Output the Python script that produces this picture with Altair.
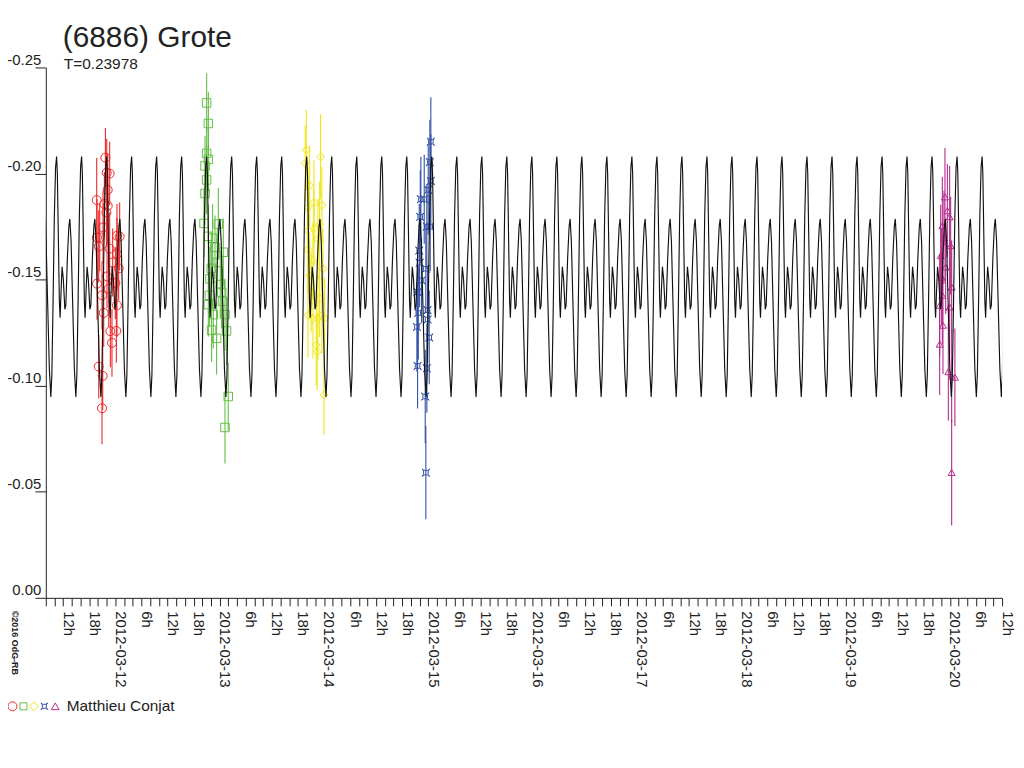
import altair as alt
import pandas as pd

FONT = "Liberation Sans"
INK = "#222222"

TITLE = "(6886) Grote"
SUBTITLE = "T=0.23978"
PERIOD_D = 0.23978
OBSERVER = "Matthieu Conjat"
CREDIT = "©2016 OdG-RB"

# time is kept as hours after 2012-03-11 00:00 UT
ORIGIN = "2012-03-11T00:00:00Z"
X_START_H = 8.0      # 2012-03-11 08h
X_END_H = 228.0      # 2012-03-20 12h
TICK_STEP_H = 2
Y_TICKS = [-0.25, -0.20, -0.15, -0.10, -0.05, 0.00]

# one cycle of the model curve (phase, relative magnitude)
PEAK_EPOCH_H = 10.48
CYCLE_PHASE = [0.00, 0.03, 0.07, 0.11, 0.14, 0.18, 0.22, 0.27, 0.33, 0.37, 0.43,
               0.49, 0.53, 0.58, 0.64, 0.71, 0.77, 0.81, 0.86, 0.91, 0.96, 1.00]
CYCLE_MAG = [-0.208, -0.200, -0.170, -0.140, -0.132, -0.145, -0.156, -0.150, -0.136,
             -0.138, -0.160, -0.175, -0.1786, -0.168, -0.140, -0.108, -0.0947, -0.105,
             -0.140, -0.180, -0.203, -0.208]

SESSIONS = ["2012-03-11", "2012-03-12", "2012-03-13", "2012-03-14", "2012-03-19"]
COLORS = ["#ee2828", "#64be46", "#f0e614", "#3250a5", "#b42d8c"]
STAR = "M-1,-1L-0.45,-0.6L0.45,-0.6L1,-1L0.6,-0.45L0.6,0.45L1,1L0.45,0.6L-0.45,0.6L-1,1L-0.6,0.45L-0.6,-0.45Z"
SHAPES = ["circle", "square", "diamond", STAR, "triangle-up"]
SIZES = [81, 49, 80, 45, 60]

red_t = [21.71, 22.01, 22.69, 22.24, 19.71, 21.48, 22.24, 21.94, 21.16, 19.78, 20.40,
         24.37, 24.99, 20.17, 24.37, 19.78, 22.08, 24.00, 20.93, 22.47, 24.37, 21.32,
         22.85, 24.23, 23.22, 20.17, 21.09, 20.93, 23.38, 24.76, 22.69]
red_m = [-0.2075, -0.2004, -0.2000, -0.1923, -0.1875, -0.1856, -0.1848, -0.1817, -0.1746,
         -0.1699, -0.1699, -0.1707, -0.1703, -0.1656, -0.1621, -0.1481, -0.1515, -0.1484,
         -0.1426, -0.1457, -0.1379, -0.1343, -0.1257, -0.1258, -0.1202, -0.1090, -0.1046,
         -0.0894, -0.1581, -0.1553, -0.1646]
red_e = [0.014, 0.016, 0.015, 0.017, 0.020, 0.015, 0.018, 0.016, 0.017, 0.018, 0.016,
         0.015, 0.016, 0.017, 0.017, 0.017, 0.015, 0.017, 0.016, 0.018, 0.015, 0.016,
         0.017, 0.015, 0.016, 0.015, 0.016, 0.017, 0.016, 0.015, 0.017]

green_t = [45.00, 45.39, 45.00, 45.39, 44.63, 45.00, 44.63, 44.40, 45.39, 46.37, 47.68,
           48.83, 46.92, 47.45, 46.08, 45.78, 48.14, 48.44, 45.62, 48.67, 45.39, 49.22,
           46.53, 46.14, 49.58, 47.29, 49.97, 49.22]
green_m = [-0.2333, -0.2236, -0.2095, -0.2067, -0.2036, -0.1970, -0.1906, -0.1765, -0.1704,
           -0.1695, -0.1762, -0.1629, -0.1652, -0.1581, -0.1553, -0.1504, -0.1477, -0.1441,
           -0.1426, -0.1398, -0.1382, -0.1335, -0.1335, -0.1262, -0.1258, -0.1223, -0.0949,
           -0.0803]
green_e = [0.014, 0.015, 0.016, 0.015, 0.014, 0.016, 0.015, 0.016, 0.015, 0.016, 0.017,
           0.016, 0.015, 0.016, 0.017, 0.015, 0.016, 0.017, 0.015, 0.016, 0.015, 0.017,
           0.016, 0.015, 0.016, 0.017, 0.016, 0.017]

yellow_t = [67.92, 71.22, 67.69, 68.70, 69.69, 71.52, 68.31, 70.99, 69.69, 68.31, 70.60,
            68.31, 69.46, 71.75, 68.70, 69.07, 70.99, 68.31, 69.46, 71.52, 72.14, 70.60,
            70.21, 70.44, 71.98]
yellow_m = [-0.2111, -0.2079, -0.2048, -0.1942, -0.1863, -0.1851, -0.1840, -0.1762, -0.1742,
            -0.1731, -0.1692, -0.1642, -0.1590, -0.1551, -0.1520, -0.1441, -0.1410, -0.1332,
            -0.1317, -0.1332, -0.1317, -0.1317, -0.1191, -0.1160, -0.0957]
yellow_e = [0.019, 0.020, 0.018, 0.019, 0.020, 0.018, 0.019, 0.020, 0.018, 0.019, 0.019,
            0.020, 0.018, 0.019, 0.020, 0.019, 0.018, 0.020, 0.019, 0.018, 0.019, 0.020,
            0.019, 0.018, 0.019]

blue_t = [96.58, 96.35, 96.58, 95.98, 94.29, 95.06, 94.15, 95.66, 96.44, 93.92, 95.43,
          93.53, 93.69, 95.82, 95.82, 93.37, 96.21, 93.53, 95.66, 95.29, 95.43, 94.00, 94.44]
blue_m = [-0.2150, -0.2054, -0.1965, -0.1923, -0.1879, -0.1879, -0.1796, -0.1750, -0.1750,
          -0.1637, -0.1551, -0.1441, -0.1343, -0.1356, -0.1312, -0.1277, -0.1227, -0.1093,
          -0.1082, -0.0949, -0.0590, -0.1580, -0.1496]
blue_e = [0.021, 0.020, 0.022, 0.021, 0.020, 0.021, 0.022, 0.020, 0.021, 0.022, 0.021,
          0.020, 0.022, 0.021, 0.020, 0.021, 0.022, 0.020, 0.021, 0.022, 0.022, 0.021, 0.020]

magenta_t = [214.86, 215.41, 215.94, 214.26, 214.63, 216.17, 213.87, 215.02, 214.10, 216.40,
             214.26, 213.64, 215.94, 214.40, 213.64, 215.64, 216.40, 217.15, 216.40]
magenta_m = [-0.1890, -0.1825, -0.1796, -0.1754, -0.1699, -0.1660, -0.1613, -0.1559, -0.1512,
             -0.1465, -0.1426, -0.1379, -0.1371, -0.1285, -0.1196, -0.1066, -0.1046, -0.1040,
             -0.0591]
magenta_e = [0.023, 0.022, 0.024, 0.023, 0.022, 0.023, 0.024, 0.022, 0.023, 0.022, 0.023,
             0.024, 0.022, 0.023, 0.024, 0.023, 0.022, 0.023, 0.025]

# ---------------------------------------------------------------- tables
origin_ms = pd.Timestamp(ORIGIN).value // 10**6
HOUR_MS = 3600 * 1000


def to_ms(h):
    return int(round(origin_ms + h * HOUR_MS))


period_h = PERIOD_D * 24.0
curve_rows = []
n0 = int((X_START_H - PEAK_EPOCH_H) // period_h) - 1
n1 = int((X_END_H - PEAK_EPOCH_H) // period_h) + 2
for n in range(n0, n1):
    for p, v in zip(CYCLE_PHASE[:-1], CYCLE_MAG[:-1]):
        curve_rows.append({"t": to_ms(PEAK_EPOCH_H + (n + p) * period_h), "mag": v})
curve = pd.DataFrame(curve_rows)

series = [(red_t, red_m, red_e), (green_t, green_m, green_e), (yellow_t, yellow_m, yellow_e),
          (blue_t, blue_m, blue_e), (magenta_t, magenta_m, magenta_e)]
pt_rows = []
for name, (ts, ms, es) in zip(SESSIONS, series):
    for t, m, e in zip(ts, ms, es):
        pt_rows.append({"session": name, "t": to_ms(t), "mag": m, "lo": m - e, "hi": m + e})
pts = pd.DataFrame(pt_rows)

tick_values = [to_ms(h) for h in range(int(X_START_H), int(X_END_H) + 1, TICK_STEP_H)]

# ---------------------------------------------------------------- scales / axes
x_scale = alt.Scale(type="utc", domain=[to_ms(X_START_H), to_ms(X_END_H)])
y_scale = alt.Scale(domain=[-0.25, 0.0], reverse=True, nice=False, zero=False)

x_axis = alt.Axis(
    values=tick_values,
    labelExpr="utchours(datum.value) == 0 ? utcFormat(datum.value, '%Y-%m-%d') : "
              "(utchours(datum.value) % 6 == 0 ? utchours(datum.value) + 'h' : '')",
    labelAngle=90, labelAlign="left", labelBaseline="alphabetic", labelPadding=5,
    tickSize=8, labelFont=FONT, labelFontSize=15, labelColor=INK,
    labelOverlap=False, labelBound=False, labelFlush=False,
    title=None, grid=False, domainColor=INK, tickColor=INK, domainWidth=1, tickWidth=1,
)
y_axis = alt.Axis(
    values=Y_TICKS,
    labelExpr="datum.value < 0 ? '-' + format(abs(datum.value), '.2f') : format(datum.value, '.2f')",
    tickSize=11, labelPadding=-6, labelBaseline="bottom", labelAlign="right",
    labelFont=FONT, labelFontSize=15, labelColor=INK,
    labelOverlap=False, labelBound=False, labelFlush=False,
    title=None, grid=False, domainColor=INK, tickColor=INK, domainWidth=1, tickWidth=1,
)

X = alt.X("t:T", scale=x_scale, axis=x_axis)
color_enc = alt.Color("session:N", scale=alt.Scale(domain=SESSIONS, range=COLORS), legend=None)

bars = alt.Chart(pts).mark_rule(strokeWidth=1.1).encode(
    x=X, y=alt.Y("lo:Q", scale=y_scale, axis=y_axis), y2="hi:Q", color=color_enc)

markers = alt.Chart(pts).mark_point(filled=False, strokeWidth=1, opacity=1).encode(
    x=X, y=alt.Y("mag:Q", scale=y_scale, axis=y_axis), color=color_enc,
    shape=alt.Shape("session:N", scale=alt.Scale(domain=SESSIONS, range=SHAPES), legend=None),
    size=alt.Size("session:N", scale=alt.Scale(domain=SESSIONS, range=SIZES), legend=None),
)

model = alt.Chart(curve).mark_line(color="#111111", strokeWidth=1.15, clip=True).encode(
    x=X, y=alt.Y("mag:Q", scale=y_scale, axis=y_axis))


def label(txt, x, y, **kw):
    return alt.Chart(pd.DataFrame({"txt": [txt]})).mark_text(font=FONT, color=INK, **kw).encode(
        x=alt.value(x), y=alt.value(y), text="txt:N")


title = label(TITLE, 17, -21, fontSize=30, align="left", baseline="alphabetic")
subtitle = label(SUBTITLE, 18, 1.5, fontSize=15.5, align="left", baseline="alphabetic")
credit = label(CREDIT, -31, 546, fontSize=9, fontWeight="bold", angle=90,
               align="left", baseline="middle")
observer = label(OBSERVER, 21, 647, fontSize=15.5, align="left", baseline="alphabetic")

legend_x = [-33.5, -22.5, -12, -1.5, 9.5]
legend_marks = []
for lx, shp, col, sz in zip(legend_x, SHAPES, COLORS, SIZES):
    legend_marks.append(
        alt.Chart(pd.DataFrame({"k": [0]})).mark_point(
            shape=shp, filled=False, color=col, size=sz, strokeWidth=1, opacity=1
        ).encode(x=alt.value(lx), y=alt.value(642))
    )

chart = alt.layer(
    bars, markers, model, title, subtitle, credit, observer, *legend_marks
).properties(
    width=961, height=533,
    autosize=alt.AutoSizeParams(type="none"),
    padding={"left": 38, "top": 58, "right": 14, "bottom": 121},
    background="white",
).configure_view(stroke=None)

chart.save("out.html", embed_options={"renderer": "svg", "actions": False})
